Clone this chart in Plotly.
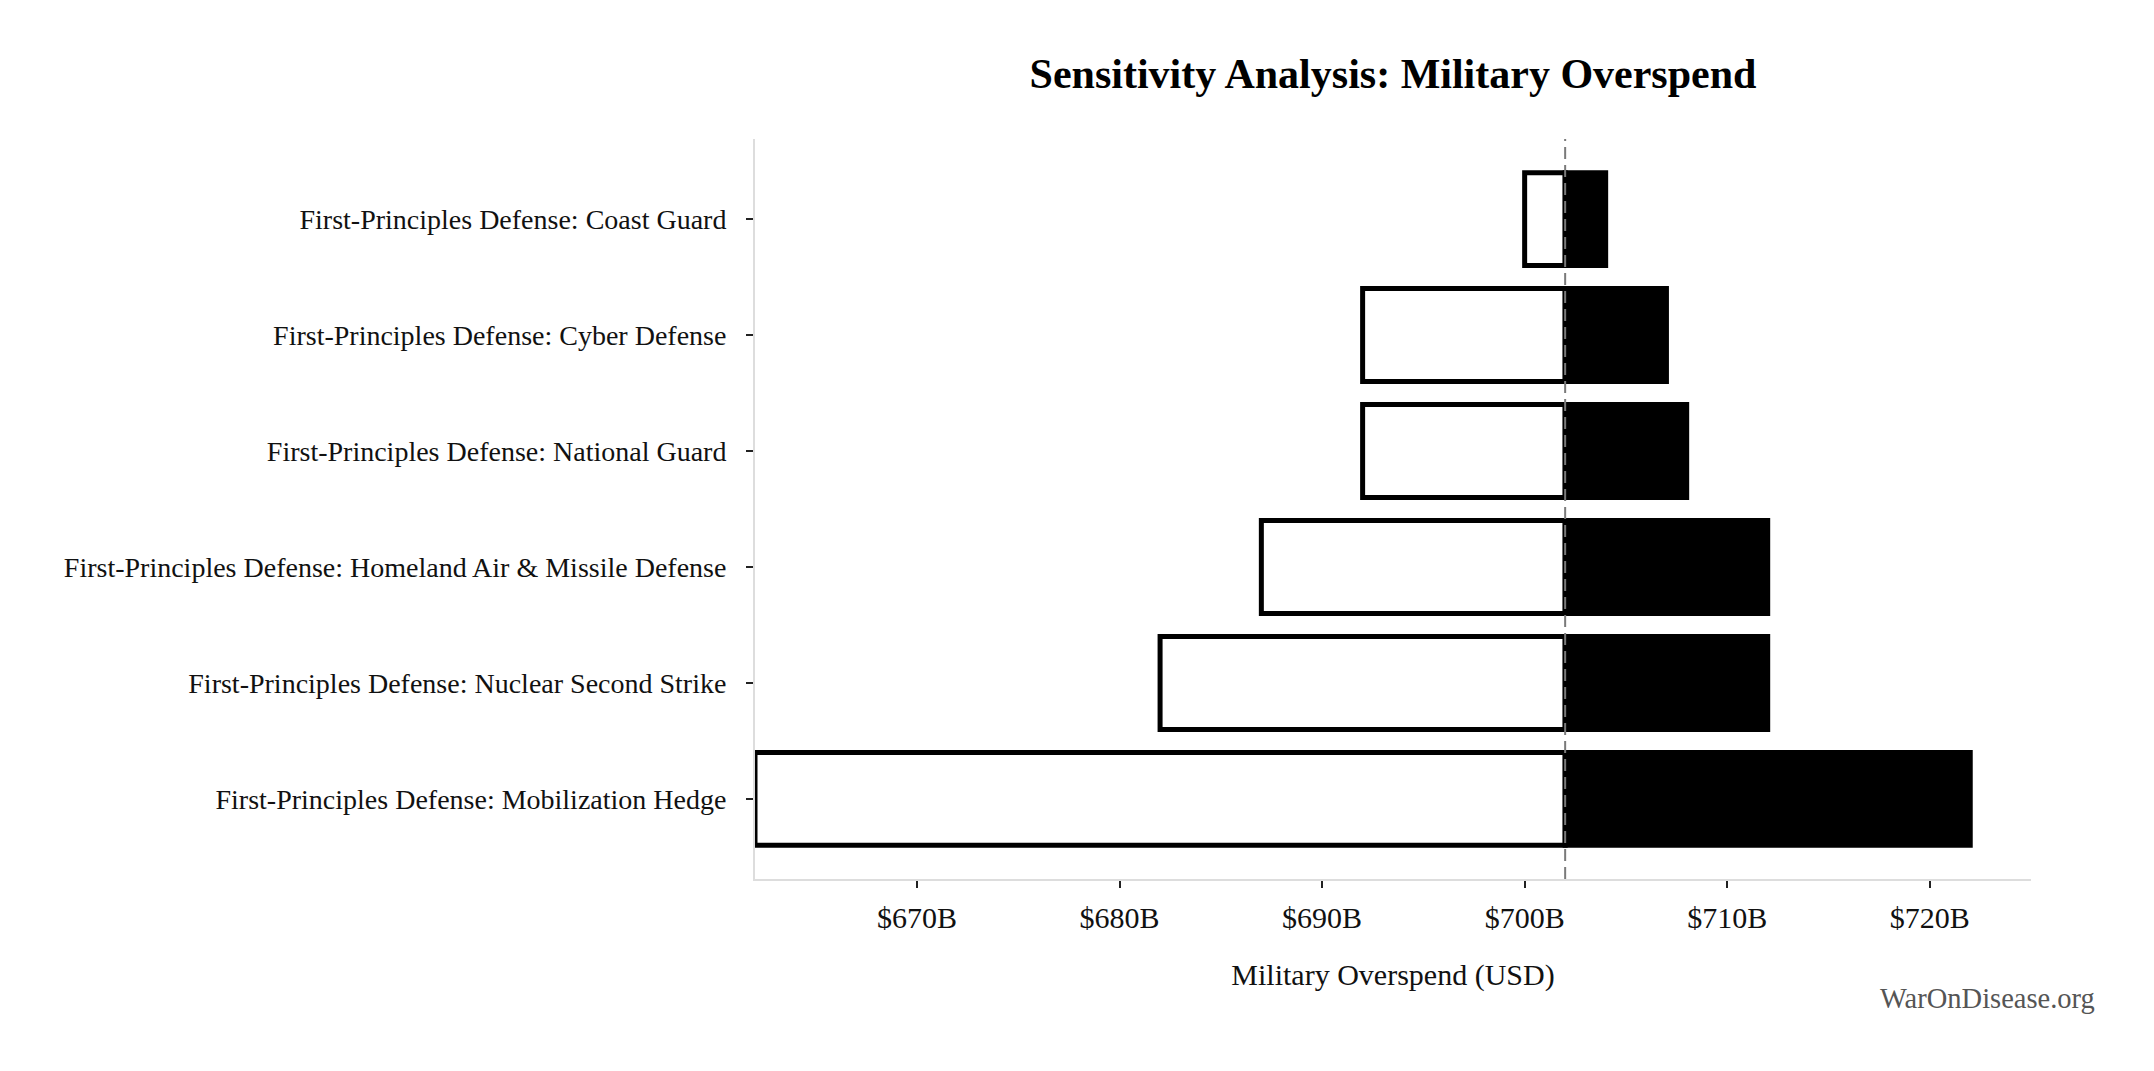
import plotly.graph_objects as go

# Data (top-to-bottom order as displayed)
categories = [
    "First-Principles Defense: Coast Guard",
    "First-Principles Defense: Cyber Defense",
    "First-Principles Defense: National Guard",
    "First-Principles Defense: Homeland Air & Missile Defense",
    "First-Principles Defense: Nuclear Second Strike",
    "First-Principles Defense: Mobilization Hedge",
]
low_values = [700, 692, 692, 687, 682, 662]     # $B
high_values = [704, 707, 708, 712, 712, 722]    # $B
baseline = 702                                   # $B
x_tick_values = [670, 680, 690, 700, 710, 720]
x_tick_labels = [f"${v}B" for v in x_tick_values]

FONT = "Liberation Serif"

ML, MR, MT, MB = 747, 131, 131, 200
W, H = 2154, 1071

fig = go.Figure()

fig.add_trace(go.Bar(
    orientation="h",
    y=categories,
    x=[baseline - v for v in low_values],
    base=low_values,
    marker=dict(color="white", line=dict(color="black", width=5)),
    showlegend=False,
    hoverinfo="skip",
))
fig.add_trace(go.Bar(
    orientation="h",
    y=categories,
    x=[v - baseline for v in high_values],
    base=[baseline] * len(high_values),
    marker=dict(color="black", line=dict(color="black", width=5)),
    showlegend=False,
    hoverinfo="skip",
))

fig.add_shape(
    type="line", xref="x", yref="paper",
    x0=baseline, x1=baseline, y0=0, y1=1,
    line=dict(color="#7a7a7a", width=2, dash="12px,6px"),
    layer="above",
)

fig.add_annotation(
    text="WarOnDisease.org",
    xref="paper", yref="paper",
    x=(2097 - 755) / 1276, y=(879 - 998) / 740,
    xanchor="right", yanchor="middle",
    showarrow=False,
    font=dict(family=FONT, size=28.5, color="#555555"),
)

fig.update_layout(
    width=W, height=H,
    paper_bgcolor="white", plot_bgcolor="white",
    margin=dict(l=ML, r=MR, t=MT, b=MB),
    barmode="overlay",
    bargap=0.2,
    font=dict(family=FONT, color="#111111"),
    title=dict(
        text="<b>Sensitivity Analysis: Military Overspend</b>",
        x=(ML + (W - MR)) / 2 / W, xanchor="center",
        y=1 - 65 / H, yanchor="middle",
        font=dict(family=FONT, size=42, color="black"),
    ),
    xaxis=dict(
        range=[662, 725],
        tickvals=x_tick_values,
        ticktext=x_tick_labels,
        ticks="outside", ticklen=7, tickwidth=2, tickcolor="#222222",
        showline=True, linecolor="#dddddd", linewidth=2,
        showgrid=False, zeroline=False,
        tickfont=dict(family=FONT, size=30, color="#111111"),
        ticklabelstandoff=4,
        title=dict(text="Military Overspend (USD)", standoff=31,
                   font=dict(family=FONT, size=30, color="#111111")),
    ),
    yaxis=dict(
        type="category",
        categoryorder="array", categoryarray=categories,
        range=[5.69, -0.69],
        ticks="outside", ticklen=7, tickwidth=2, tickcolor="#222222",
        showline=True, linecolor="#dddddd", linewidth=2,
        showgrid=False, zeroline=False,
        tickfont=dict(family=FONT, size=28, color="#111111"),
        ticklabelstandoff=14,
    ),
)

fig.write_html("out.html")
